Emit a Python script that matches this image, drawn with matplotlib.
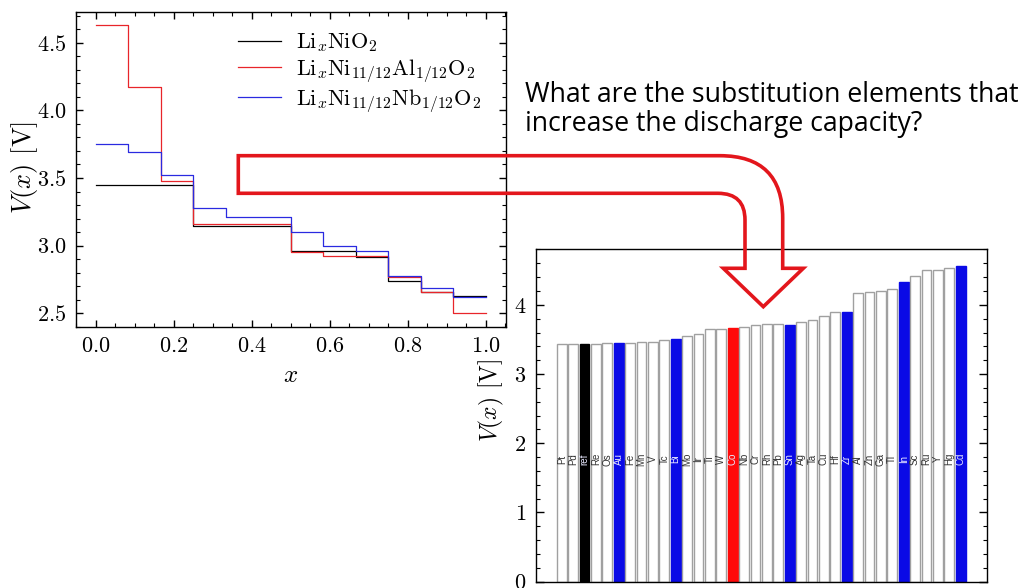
import numpy as np
import matplotlib
matplotlib.use("Agg")
import matplotlib.pyplot as plt
from matplotlib.path import Path
from matplotlib.patches import PathPatch
from matplotlib.ticker import MultipleLocator

plt.rcParams.update({
    'font.family': 'serif',
    'font.serif': ['cmr10'],
    'mathtext.fontset': 'cm',
    'axes.formatter.use_mathtext': True,
    'axes.unicode_minus': False,
    'axes.linewidth': 1.0,
})

# --- left panel: step voltage curves, composition grid in 1/12 steps
x_edges = [0, 1/12, 2/12, 3/12, 4/12, 5/12, 6/12, 7/12, 8/12, 9/12, 10/12, 11/12, 1.0]
v_nio2 = [3.45, 3.45, 3.45, 3.145, 3.145, 3.145, 2.96, 2.96, 2.915, 2.74, 2.655, 2.63]
v_al = [4.63, 4.17, 3.48, 3.16, 3.16, 3.16, 2.95, 2.92, 2.92, 2.765, 2.66, 2.50]
v_nb = [3.75, 3.69, 3.525, 3.275, 3.21, 3.21, 3.10, 3.00, 2.96, 2.775, 2.685, 2.62]

# --- right panel: average voltage per substitution element
elements = ['Pt', 'Pd', 'ref', 'Re', 'Os', 'Au', 'Fe', 'Mn', 'V', 'Tc', 'Bi', 'Mo',
            'Ir', 'Ti', 'W', 'Co', 'Nb', 'Cr', 'Rh', 'Pb', 'Sn', 'Ag', 'Ta', 'Cu',
            'Hf', 'Zr', 'Al', 'Zn', 'Ga', 'Tl', 'In', 'Sc', 'Ru', 'Y', 'Hg', 'Cd']
voltages = [3.44, 3.44, 3.44, 3.44, 3.45, 3.45, 3.455, 3.46, 3.46, 3.49, 3.50, 3.55,
            3.575, 3.65, 3.65, 3.66, 3.68, 3.705, 3.72, 3.725, 3.715, 3.755, 3.78, 3.835,
            3.89, 3.90, 4.165, 4.18, 4.20, 4.225, 4.33, 4.41, 4.50, 4.505, 4.53, 4.56]
highlight = {'ref': 'black', 'Au': '#0a0ae6', 'Bi': '#0a0ae6', 'Co': '#ff0a0a',
             'Sn': '#0a0ae6', 'Zr': '#0a0ae6', 'In': '#0a0ae6', 'Cd': '#0a0ae6'}

question = ["What are the substitution elements that",
            "increase the discharge capacity?"]

W, H = 1029, 588
fig = plt.figure(figsize=(W / 100, H / 100), dpi=100)


def style_axes(ax):
    ax.tick_params(which='both', direction='in', top=True, right=True,
                   labelsize=16, pad=7)
    ax.tick_params(which='major', length=5, width=1.0)
    ax.tick_params(which='minor', length=3, width=0.8)


# left chart
ax1 = fig.add_axes([0.0739, 0.4444, 0.4176, 0.5357])
ax1.step(x_edges, v_nio2 + [v_nio2[-1]], where='post', color='black', lw=0.9,
         label=r'$\mathrm{Li}_x\mathrm{NiO}_2$')
ax1.step(x_edges, v_al + [v_al[-1]], where='post', color='#e8252a', lw=0.9,
         label=r'$\mathrm{Li}_x\mathrm{Ni}_{11/12}\mathrm{Al}_{1/12}\mathrm{O}_2$')
ax1.step(x_edges, v_nb + [v_nb[-1]], where='post', color='#2a2ae0', lw=0.9,
         label=r'$\mathrm{Li}_x\mathrm{Ni}_{11/12}\mathrm{Nb}_{1/12}\mathrm{O}_2$')
ax1.set_xlim(-0.051, 1.051)
ax1.set_ylim(2.40, 4.73)
ax1.xaxis.set_major_locator(MultipleLocator(0.2))
ax1.xaxis.set_minor_locator(MultipleLocator(0.05))
ax1.yaxis.set_major_locator(MultipleLocator(0.5))
ax1.yaxis.set_minor_locator(MultipleLocator(0.1))
style_axes(ax1)
ax1.set_xlabel(r'$x$', fontsize=18)
ax1.set_ylabel(r'$V(x)$ [V]', fontsize=19)
ax1.xaxis.set_label_coords(0.5, -0.12)
ax1.yaxis.set_label_coords(-0.085, 0.505)
ax1.legend(loc='upper left', bbox_to_anchor=(0.357, 0.965), borderaxespad=0,
           frameon=False, fontsize=16, handlelength=1.9, labelspacing=0.12,
           handletextpad=0.7)

# right chart
ax2 = fig.add_axes([0.5209, 0.0107, 0.438, 0.565])
pos = np.arange(len(elements))
faces = [highlight.get(e, 'white') for e in elements]
edges = [highlight.get(e, '#a0a0a0') for e in elements]
ax2.bar(pos, voltages, width=0.86, color=faces, edgecolor=edges, linewidth=1.0)
for p, e in zip(pos, elements):
    ax2.text(p, 1.77, e, rotation=90, ha='center', va='center', fontsize=7,
             family='Liberation Sans',
             color='#e8e8ff' if e in highlight else '#333333')
ax2.set_xlim(-2.26, 37.29)
ax2.set_ylim(0, 4.8)
ax2.yaxis.set_major_locator(MultipleLocator(1))
ax2.yaxis.set_minor_locator(MultipleLocator(0.2))
style_axes(ax2)
ax2.tick_params(axis='x', which='both', bottom=False, top=False, labelbottom=False)
ax2.tick_params(which='major', length=6)
ax2.set_ylabel(r'$V(x)$ [V]', fontsize=17)
ax2.yaxis.set_label_coords(-0.066, 0.545)

# question text
fig.text(525 / W, 1 - 101.7 / H, question[0], family='Open Sans', fontsize=19.2, va='baseline')
fig.text(525 / W, 1 - 131 / H, question[1], family='Open Sans', fontsize=19.2, va='baseline')

# hollow bent arrow from the left chart to the bars (pixel coords, top-left origin)
arrow_px = [(238.3, 155.7), (720, 155.7), (782.7, 155.7), (782.7, 218),
            (782.7, 268.3), (803.3, 268.3), (763.3, 306.7), (723.3, 268.3),
            (745, 268.3), (745, 220), (745, 193.3), (718, 193.3),
            (238.3, 193.3), (238.3, 155.7)]
codes = [Path.MOVETO, Path.LINETO, Path.CURVE3, Path.CURVE3,
         Path.LINETO, Path.LINETO, Path.LINETO, Path.LINETO,
         Path.LINETO, Path.LINETO, Path.CURVE3, Path.CURVE3,
         Path.LINETO, Path.CLOSEPOLY]
verts = [(px / W, 1 - py / H) for px, py in arrow_px]
arrow = PathPatch(Path(verts, codes), facecolor='none', edgecolor='#e3161c',
                  lw=2.6, joinstyle='miter', transform=fig.transFigure, zorder=10)
fig.add_artist(arrow)

fig.savefig('out.png', dpi=100)
